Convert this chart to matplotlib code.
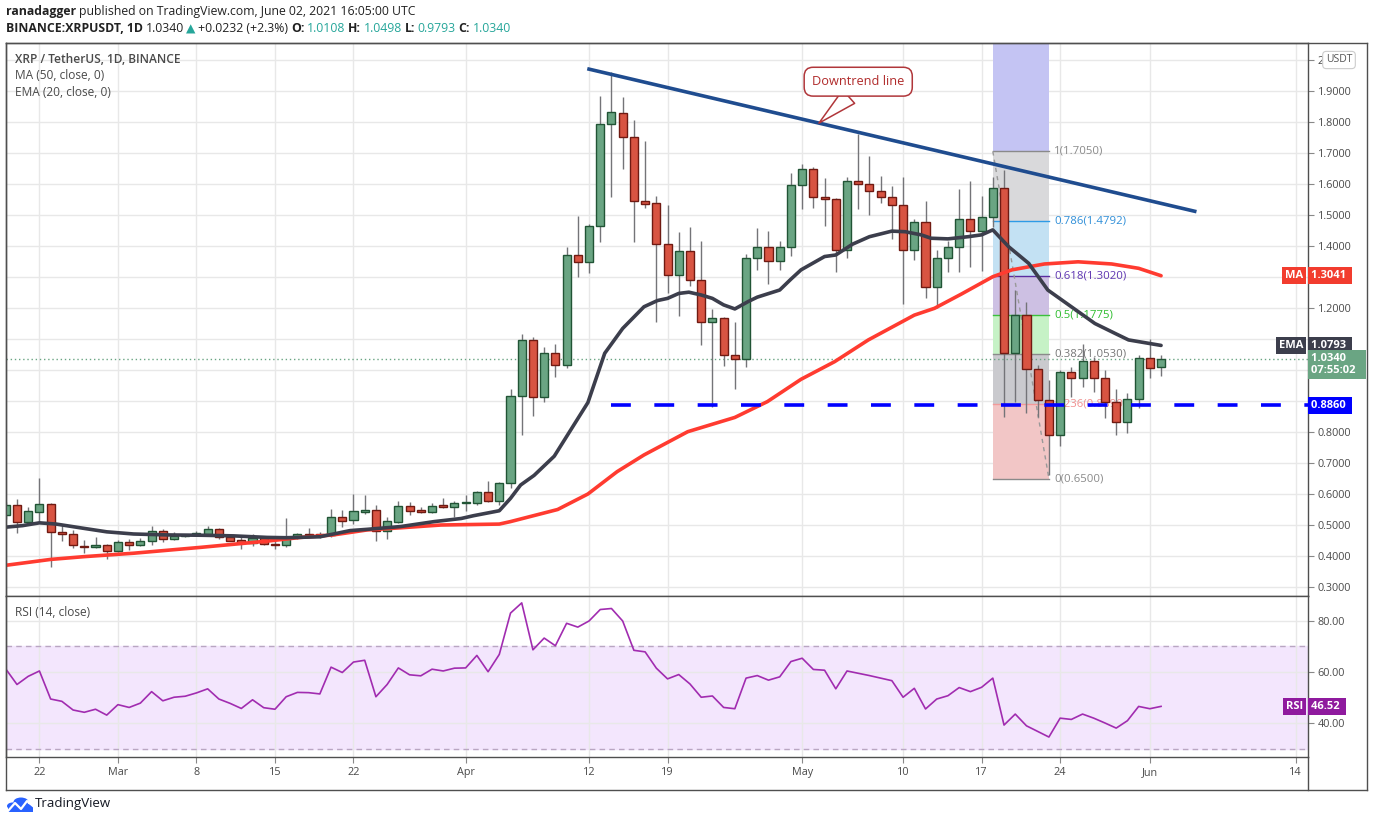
import numpy as np
import pandas as pd
import matplotlib
matplotlib.use("Agg")
import matplotlib.pyplot as plt
import matplotlib.transforms as mtrans
from matplotlib.patches import Rectangle, Circle
from matplotlib.lines import Line2D

plt.rcParams['font.family'] = ['Open Sans', 'DejaVu Sans']

# ---- data ----
dates = pd.date_range('2021-02-19', '2021-06-02', freq='D')
opens = [0.532, 0.565, 0.511, 0.543, 0.568, 0.476, 0.470, 0.433, 0.428, 0.434,
         0.415, 0.444, 0.434, 0.448, 0.481, 0.454, 0.465, 0.468, 0.472, 0.486,
         0.460, 0.452, 0.441, 0.457, 0.439, 0.434, 0.460, 0.471, 0.471, 0.468,
         0.525, 0.515, 0.543, 0.550, 0.480, 0.509, 0.562, 0.548, 0.543, 0.563,
         0.559,
         0.570, 0.570, 0.605, 0.576, 0.634, 0.916, 1.097, 0.914, 1.054, 1.015,
         1.371, 1.347, 1.465, 1.792, 1.828, 1.753, 1.544, 1.538, 1.405, 1.305,
         1.383, 1.289, 1.154, 1.167, 1.047, 1.034, 1.360, 1.398, 1.353, 1.396,
         1.596, 1.647, 1.557, 1.551, 1.386, 1.609, 1.599, 1.576, 1.557, 1.531,
         1.388, 1.476, 1.267, 1.360, 1.396, 1.486, 1.447, 1.492, 1.586, 1.054,
         1.177, 1.004, 0.903, 0.789, 0.992, 0.973, 1.029, 0.973, 0.896, 0.831,
         0.905, 1.038, 1.0108]
highs = [0.575, 0.583, 0.559, 0.653, 0.572, 0.500, 0.484, 0.452, 0.460, 0.439,
         0.452, 0.454, 0.459, 0.498, 0.487, 0.478, 0.472, 0.482, 0.497, 0.490,
         0.471, 0.468, 0.471, 0.463, 0.452, 0.523, 0.475, 0.490, 0.479, 0.551,
         0.548, 0.600, 0.597, 0.565, 0.525, 0.577, 0.574, 0.559, 0.571, 0.588,
         0.577,
         0.597, 0.610, 0.643, 0.640, 0.938, 1.116, 1.108, 1.073, 1.084, 1.396,
         1.498, 1.471, 1.885, 1.960, 1.882, 1.806, 1.739, 1.561, 1.532, 1.445,
         1.462, 1.417, 1.197, 1.170, 1.155, 1.374, 1.457, 1.448, 1.416, 1.634,
         1.665, 1.654, 1.618, 1.554, 1.622, 1.761, 1.690, 1.626, 1.594, 1.624,
         1.487, 1.546, 1.387, 1.416, 1.584, 1.610, 1.561, 1.624, 1.645, 1.258,
         1.218, 1.016, 0.968, 1.000, 1.011, 1.084, 1.043, 0.999, 0.940, 0.925,
         1.048, 1.099, 1.0498]
lows = [0.520, 0.473, 0.505, 0.511, 0.366, 0.449, 0.425, 0.411, 0.426, 0.391,
        0.414, 0.419, 0.432, 0.434, 0.445, 0.452, 0.460, 0.465, 0.471, 0.454,
        0.447, 0.422, 0.432, 0.437, 0.422, 0.428, 0.454, 0.462, 0.458, 0.462,
        0.495, 0.503, 0.536, 0.449, 0.454, 0.508, 0.532, 0.540, 0.538, 0.556,
        0.525,
        0.546, 0.565, 0.573, 0.565, 0.618, 0.790, 0.853, 0.898, 0.979, 1.005,
        1.301, 1.314, 1.414, 1.557, 1.647, 1.414, 1.524, 1.156, 1.247, 1.174,
        1.271, 1.081, 0.882, 1.013, 0.938, 1.011, 1.323, 1.277, 1.323, 1.368,
        1.518, 1.522, 1.465, 1.317, 1.362, 1.518, 1.501, 1.538, 1.422, 1.212,
        1.355, 1.231, 1.199, 1.317, 1.317, 1.333, 1.320, 1.460, 0.847, 0.898,
        0.862, 0.849, 0.660, 0.755, 0.914, 0.944, 0.930, 0.844, 0.790, 0.796,
        0.876, 0.973, 0.9793]
closes = [0.565, 0.511, 0.545, 0.568, 0.476, 0.470, 0.434, 0.428, 0.434, 0.415,
          0.444, 0.434, 0.448, 0.481, 0.454, 0.465, 0.468, 0.474, 0.486, 0.460,
          0.449, 0.441, 0.457, 0.438, 0.434, 0.460, 0.471, 0.467, 0.466, 0.525,
          0.514, 0.545, 0.550, 0.480, 0.512, 0.562, 0.546, 0.543, 0.562, 0.559,
          0.570,
          0.571, 0.605, 0.576, 0.634, 0.916, 1.097, 0.914, 1.054, 1.015, 1.371,
          1.347, 1.465, 1.794, 1.831, 1.753, 1.544, 1.534, 1.405, 1.305, 1.383,
          1.289, 1.154, 1.167, 1.047, 1.034, 1.360, 1.398, 1.353, 1.396, 1.596,
          1.647, 1.557, 1.551, 1.386, 1.609, 1.600, 1.576, 1.557, 1.531, 1.386,
          1.476, 1.267, 1.360, 1.396, 1.486, 1.447, 1.492, 1.586, 1.054, 1.177,
          1.004, 0.903, 0.789, 0.992, 0.973, 1.029, 0.973, 0.896, 0.831, 0.905,
          1.038, 1.008, 1.0340]

# day offsets from 2021-04-01 for the indicator lines
ema_days = [-41, -39.5, -38, -36.5, -34, -32, -29.6, -26.6, -23.6, -20.7, -17.7,
            -16, -13, -10.3, -8.8, -5.8, -2.8, -0.4, 0.7, 3, 4, 4.9, 6.1, 7.9,
            10.9, 12.4, 14, 15.9, 17.1, 18, 19, 19.9, 21, 22, 23, 24, 25.2, 26,
            28, 29, 29.9, 32, 33, 34.5, 36, 38, 39.2, 40.6, 41.5, 43, 44.8, 46,
            47, 48.4, 50.2, 51.9, 54, 56.1, 57.9, 59.1, 60.9, 62]
ema_vals = [0.493, 0.498, 0.507, 0.503, 0.489, 0.478, 0.471, 0.468, 0.467, 0.465,
            0.460, 0.459, 0.462, 0.482, 0.486, 0.495, 0.511, 0.521, 0.530, 0.546,
            0.586, 0.629, 0.660, 0.722, 0.895, 1.054, 1.134, 1.204, 1.224, 1.231,
            1.247, 1.251, 1.242, 1.231, 1.210, 1.197, 1.221, 1.235, 1.258, 1.293,
            1.323, 1.366, 1.371, 1.406, 1.430, 1.448, 1.446, 1.436, 1.425, 1.423,
            1.430, 1.436, 1.452, 1.398, 1.344, 1.258, 1.204, 1.150, 1.118, 1.097,
            1.086, 1.0793]
ma_days = [-41, -37, -34, -29.6, -23.6, -17.7, -14.7, -11.8, -8.8, -5.8, -2.2, 3,
           4, 8.2, 10.9, 13.5, 15.9, 19.8, 24, 26.9, 29.9, 32.9, 35.9, 40, 41.8,
           44.2, 47, 48.7, 51.6, 54.6, 57.6, 60, 62]
ma_vals = [0.370, 0.389, 0.398, 0.409, 0.428, 0.448, 0.460, 0.468, 0.484, 0.491,
           0.500, 0.503, 0.511, 0.550, 0.600, 0.672, 0.726, 0.801, 0.847, 0.898,
           0.970, 1.027, 1.097, 1.177, 1.199, 1.245, 1.301, 1.323, 1.342, 1.349,
           1.342, 1.328, 1.3041]
rsi_vals = [61.2, 55.1, 58.3, 60.4, 49.4, 48.5, 45.1, 44.2, 45.4, 43.1,
            47.2, 46.1, 47.8, 52.3, 48.7, 50.1, 50.5, 51.8, 53.4, 49.4,
            47.7, 45.7, 49.1, 46.0, 45.4, 50.3, 52.0, 51.9, 51.4, 61.9,
            59.8, 63.9, 64.6, 50.3, 55.1, 61.6, 58.9, 58.5, 61.1, 60.4,
            61.5,
            61.6, 66.5, 60.1, 66.9, 83.1, 87.1, 68.7, 73.3, 70.3, 79.1,
            77.6, 80.0, 84.5, 84.9, 80.0, 68.5, 67.9, 61.5, 57.3, 59.0,
            55.3, 50.1, 50.6, 46.1, 45.6, 57.6, 58.6, 56.8, 58.1, 64.1,
            65.4, 61.0, 60.7, 53.4, 60.4, 59.5, 58.6, 57.6, 56.6, 50.1,
            53.6, 45.5, 49.4, 50.7, 53.9, 52.3, 54.0, 57.6, 39.2, 43.5,
            38.9, 36.7, 34.5, 41.9, 41.4, 43.5, 41.9, 40.0, 38.0, 40.9,
            46.5, 45.6, 46.52]

trend_dates = ['2021-04-12', '2021-06-05']
trend_prices = [1.9705, 1.512]
support_start = '2021-04-14'
support_price = 0.886
fib_start, fib_end = '2021-05-18', '2021-05-23'
fib_ratios = ['1', '0.786', '0.618', '0.5', '0.382', '0.236', '0']
fib_prices = [1.7050, 1.4792, 1.3020, 1.1775, 1.0530, 0.8890, 0.6500]
fib_fill = ['#d9d9db', '#c3e1f3', '#cdc0e3', '#c6f2c6', '#cacace', '#f2c6c6']
fib_line = ['#8a8a8a', '#2e9be6', '#5a2ca0', '#3cc03c', '#8a8a8a', '#f29a9a', '#8a8a8a']
fib_text = ['#8a8a8a', '#2e8ed8', '#5e35b1', '#2ebd2e', '#777777', '#f09090', '#8a8a8a']

tick_dates = ['2021-02-22', '2021-03-01', '2021-03-08', '2021-03-15', '2021-03-22',
              '2021-04-01', '2021-04-12', '2021-04-19', '2021-05-01', '2021-05-10',
              '2021-05-17', '2021-05-24', '2021-06-01', '2021-06-14']
tick_labels = ['22', 'Mar', '8', '15', '22', 'Apr', '12', '19', 'May', '10', '17',
               '24', 'Jun', '14']
# price labels hidden behind the axis tags in the reference
hidden_prices = [0.9, 1.0, 1.1, 1.3]

base = pd.Timestamp('2021-04-01')


def day(s):
    return (pd.Timestamp(s) - base).days


x = np.array((dates - base).days, dtype=float)
o = np.array(opens); h = np.array(highs); l = np.array(lows); c = np.array(closes)

W, H = 1376, 823
fig = plt.figure(figsize=(W / 100, H / 100), dpi=100)
fig.patch.set_facecolor('white')


def fx(px):
    return px / W


def fy(py):
    return 1 - py / H


GRID = '#e8e8e8'
FRAME = '#4f4f4f'
TXT = '#4a4a4a'

ax = fig.add_axes([fx(6), fy(596), fx(1308) - fx(6), fy(43) - fy(596)])
rs = fig.add_axes([fx(6), fy(757), fx(1308) - fx(6), fy(596) - fy(757)], sharex=ax)

xmin, xmax = -40.98, 75.1
ax.set_xlim(xmin, xmax)
ax.set_ylim(0.271, 2.0548)
rs.set_ylim(26.67, 89.8)

tx = [day(t) for t in tick_dates]
for a in (ax, rs):
    a.set_xticks(tx)
    a.grid(True, color=GRID, lw=1, zorder=0)
    a.set_axisbelow(True)
    for sp in a.spines.values():
        sp.set_color(FRAME)
        sp.set_linewidth(1)
    a.yaxis.tick_right()
    a.tick_params(axis='y', length=4, width=0.8, color='#888888', pad=3,
                  labelsize=7.8, labelcolor=TXT)

ax.tick_params(axis='x', length=0, labelbottom=False)
rs.set_xticklabels(tick_labels)
rs.tick_params(axis='x', length=4, width=0.8, color='#888888', pad=3,
               labelsize=7.8, labelcolor=TXT)

yt = np.round(np.arange(0.3, 2.001, 0.1), 1)
ax.set_yticks(yt)
ylabels = []
for v in yt:
    if v in hidden_prices:
        ylabels.append('')
    elif v == 2.0:
        ylabels.append('2')
    else:
        ylabels.append('%.4f' % v)
ax.set_yticklabels(ylabels)
rs.set_yticks([40, 60, 80])
rs.set_yticklabels(['40.00', '60.00', '80.00'])

# ---- fib retracement ----
f0, f1 = day(fib_start), day(fib_end)
ax.add_patch(Rectangle((f0, fib_prices[0]), f1 - f0, 3, fc='#c4c4f3', ec='none', zorder=1))
for i in range(len(fib_prices) - 1):
    ax.add_patch(Rectangle((f0, fib_prices[i + 1]), f1 - f0,
                           fib_prices[i] - fib_prices[i + 1],
                           fc=fib_fill[i], ec='none', zorder=1))
for p, lc, tc, r in zip(fib_prices, fib_line, fib_text, fib_ratios):
    ax.plot([f0, f1], [p, p], color=lc, lw=1, zorder=1.5)
    ax.text(f1 + 0.45, p, '%s(%.4f)' % (r, p), color=tc, fontsize=8.2,
            va='center', ha='left', zorder=1.5)
ax.plot([f0, f1], [fib_prices[0], fib_prices[-1]], color='#999999', lw=1,
        ls=(0, (3, 3)), zorder=1.6)

# ---- candles ----
up = c >= o
ax.vlines(x, l, h, color='#747478', lw=1, zorder=3)
bot = np.minimum(o, c)
hgt = np.maximum(np.abs(c - o), 0.004)
ax.bar(x[up], hgt[up], bottom=bot[up], width=0.72, color='#6aa583',
       edgecolor='#215435', lw=1, zorder=4)
ax.bar(x[~up], hgt[~up], bottom=bot[~up], width=0.72, color='#d85442',
       edgecolor='#701a12', lw=1, zorder=4)

# ---- indicators ----
ax.plot(ma_days, ma_vals, color='#ff3b30', lw=2.6, zorder=5, solid_capstyle='round')
ax.plot(ema_days, ema_vals, color='#3c3e4c', lw=2.6, zorder=5, solid_capstyle='round')

# ---- drawings ----
ax.plot([day(d) for d in trend_dates], trend_prices, color='#1f4c8f', lw=2.6, zorder=6)
ax.plot([day(support_start), xmax], [support_price] * 2, color='#0000ff', lw=2.6,
        dashes=(5.5, 6.5), zorder=6)
ax.axhline(closes[-1], color='#6aa583', lw=1, ls=(0, (1, 2)), zorder=2)

tip_d = 31.5
tip_p = trend_prices[0] + (trend_prices[1] - trend_prices[0]) * \
    (tip_d - day(trend_dates[0])) / (day(trend_dates[1]) - day(trend_dates[0]))
ax.annotate('Downtrend line', xy=(tip_d, tip_p), xytext=(35.0, 1.93),
            ha='center', va='center', fontsize=9.2, color='#b02a2a', zorder=7,
            bbox=dict(boxstyle='round,pad=0.62,rounding_size=0.7', fc='white',
                      ec='#b0363a', lw=1.1),
            arrowprops=dict(arrowstyle='wedge,tail_width=1.4,shrink_factor=0.5',
                            fc='white', ec='#b0363a', lw=1.1, relpos=(0.5, 0.0),
                            shrinkA=0, shrinkB=0))

# ---- RSI ----
rs.axhspan(30, 70, color='#f3e6fd', zorder=0.5)
for lev in (70, 30):
    rs.axhline(lev, color='#b9a6c2', lw=1, dashes=(4, 3), zorder=1)
rs.plot(x, rsi_vals, color='#a12cb0', lw=1.2, zorder=3)

# ---- texts ----
ax.text(0.0069, 0.97, 'XRP / TetherUS, 1D, BINANCE', transform=ax.transAxes,
        fontsize=8.6, color=TXT, fontweight='semibold', va='center')
ax.text(0.0069, 0.941, 'MA (50, close, 0)', transform=ax.transAxes,
        fontsize=8.6, color=TXT, va='center')
ax.text(0.0069, 0.91, 'EMA (20, close, 0)', transform=ax.transAxes,
        fontsize=8.6, color=TXT, va='center')
rs.text(0.0069, 0.9, 'RSI (14, close)', transform=rs.transAxes,
        fontsize=8.6, color=TXT, va='center')

renderer = fig.canvas.get_renderer()


def segments(x0, y0, parts, size, gap):
    xx = x0
    for s, col, wt in parts:
        t = fig.text(fx(xx), fy(y0), s, color=col, fontsize=size, fontweight=wt,
                     va='center', ha='left')
        xx += t.get_window_extent(renderer=renderer).width + gap


TEAL = '#26a69a'
DARK = '#222222'
segments(6, 12, [('ranadagger', DARK, 'bold'),
                 ('published on TradingView.com, June 02, 2021 16:05:00 UTC', DARK, 'normal')],
         8.8, 3.0)
segments(6, 29, [('BINANCE:XRPUSDT, 1D', DARK, 'bold'), ('1.0340', DARK, 'normal'),
                 ('\u25b2', TEAL, 'normal'), ('+0.0232 (+2.3%)', DARK, 'normal'),
                 ('O:', DARK, 'bold'), ('1.0108', TEAL, 'normal'),
                 ('H:', DARK, 'bold'), ('1.0498', TEAL, 'normal'),
                 ('L:', DARK, 'bold'), ('0.9793', TEAL, 'normal'),
                 ('C:', DARK, 'bold'), ('1.0340', TEAL, 'normal')], 8.8, 2.6)

# ---- price axis tags ----
tr_main = mtrans.blended_transform_factory(fig.transFigure, ax.transData)
tr_rsi = mtrans.blended_transform_factory(fig.transFigure, rs.transData)


def tag(tr, px, val, s, col, ha='left', size=8):
    fig.text(fx(px), val, s, transform=tr, color='white', fontsize=size,
             fontweight='bold', ha=ha, va='center',
             bbox=dict(boxstyle='square,pad=0.28', fc=col, ec='none'))


tag(tr_main, 1311, ma_vals[-1], '1.3041 ', '#f23c2e')
tag(tr_main, 1303, ma_vals[-1], 'MA', '#f23c2e', ha='right')
tag(tr_main, 1311, ema_vals[-1], '1.0793 ', '#3c3e4c')
tag(tr_main, 1303, ema_vals[-1], 'EMA', '#3c3e4c', ha='right')
fig.text(fx(1311), closes[-1] - 0.016, '1.0340      \n07:55:02 ', transform=tr_main,
         color='white', fontsize=8, fontweight='bold', ha='left', va='center',
         linespacing=1.15,
         bbox=dict(boxstyle='square,pad=0.28', fc='#6aa583', ec='none'))
tag(tr_main, 1311, support_price, '0.8860 ', '#0000ff')
tag(tr_rsi, 1311, rsi_vals[-1], '46.52 ', '#8f1a9e')
tag(tr_rsi, 1303, rsi_vals[-1], 'RSI', '#8f1a9e', ha='right')

fig.text(fx(1339), fy(60), 'USDT', fontsize=7.5, color='#555555', ha='center',
         va='center', bbox=dict(boxstyle='round,pad=0.3,rounding_size=0.35',
                                fc='white', ec='#cccccc', lw=0.8))

# ---- outer frame ----
for (xa, ya, xb, yb) in [(6, 43, 1367, 43), (1367, 43, 1367, 790),
                         (6, 790, 1367, 790), (6, 43, 6, 790),
                         (1308, 757, 1308, 790)]:
    fig.add_artist(Line2D([fx(xa), fx(xb)], [fy(ya), fy(yb)], color=FRAME, lw=1))

# ---- TradingView logo ----
for (cx, cy, rr) in [(13, 806, 6), (21, 802, 7.5), (28, 807, 5)]:
    fig.add_artist(Circle((fx(cx), fy(cy)), rr / W, transform=fig.transFigure,
                          fc='#2962ff', ec='none'))
fig.add_artist(Rectangle((fx(8), fy(812)), 25 / W, 6 / H, transform=fig.transFigure,
                         fc='#2962ff', ec='none'))
fig.add_artist(Line2D([fx(8), fx(15), fx(21), fx(27), fx(33)],
                      [fy(811), fy(803), fy(809), fy(801), fy(806)],
                      color='white', lw=1.6))
fig.text(fx(35), fy(804), 'TradingView', fontsize=9.5, color='#131722', va='center')

fig.savefig('out.png', dpi=100, facecolor='white')
